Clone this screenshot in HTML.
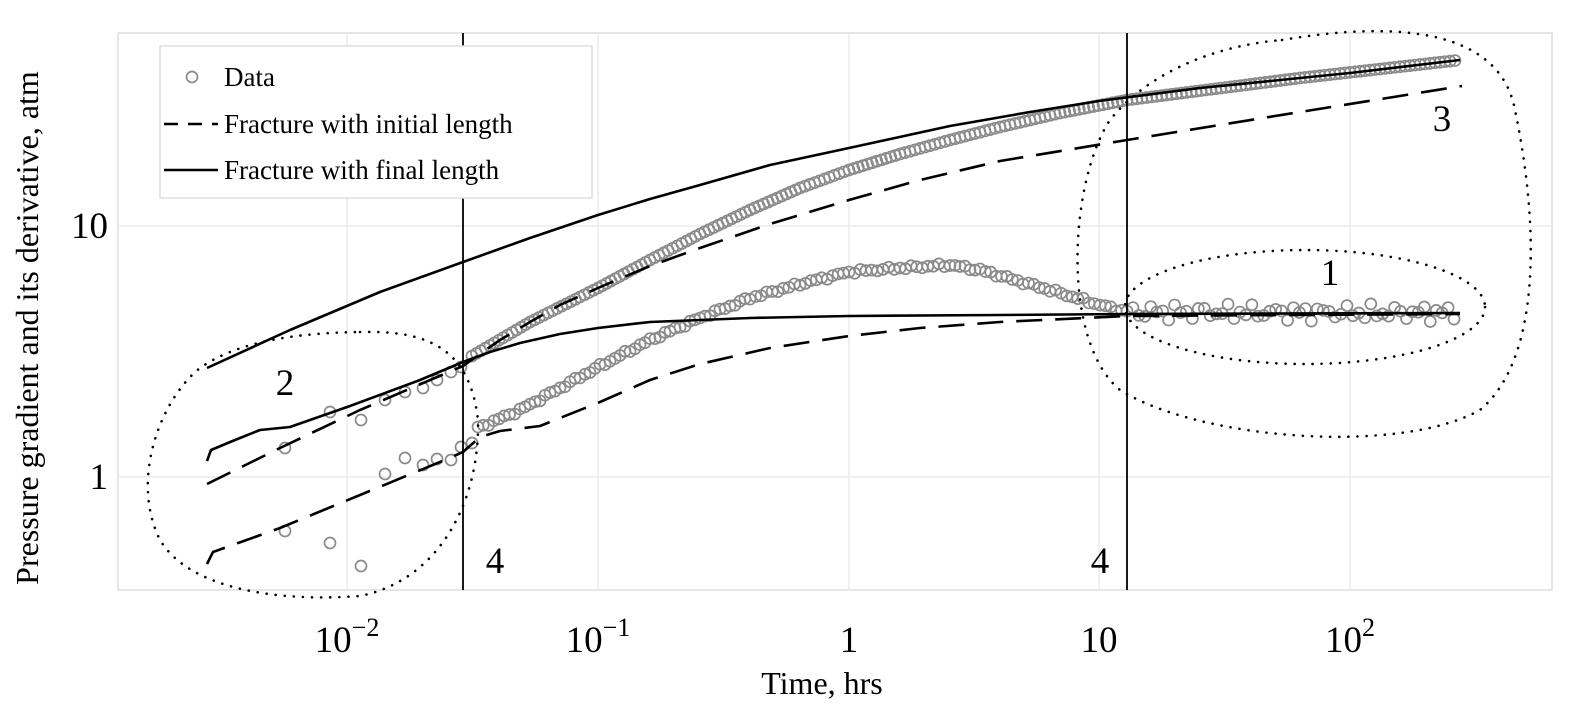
<!DOCTYPE html>
<html><head><meta charset="utf-8"><style>
body{margin:0;background:#fff}
svg{display:block}
text{font-family:"Liberation Serif","DejaVu Serif",serif;fill:#000}
</style></head><body>
<svg id="s" width="1579" height="717" viewBox="0 0 1579 717" xmlns="http://www.w3.org/2000/svg">
<rect x="118" y="33" width="1434" height="557" fill="#fff" stroke="#ddd" stroke-width="1.5"/>
<g stroke="#ebebeb" stroke-width="1.5">
<line x1="347" y1="33" x2="347" y2="590"/><line x1="598" y1="33" x2="598" y2="590"/>
<line x1="849" y1="33" x2="849" y2="590"/><line x1="1099" y1="33" x2="1099" y2="590"/>
<line x1="1350" y1="33" x2="1350" y2="590"/>
<line x1="118" y1="226" x2="1552" y2="226"/><line x1="118" y1="477" x2="1552" y2="477"/>
</g>
<g id="data" fill="none" stroke="#8a8a8a" stroke-width="1.7"></g>
<g fill="none" stroke="#000" stroke-width="2.6" stroke-linejoin="round">
<polyline points="207,368 290,330 380,292 463,262 530,238 598,215 650,199 700,185 770,165 849,148 950,126 1030,112 1099,101 1200,88 1350,73 1460,60"/>
<polyline points="207,461 211,450 235,440 260,430 290,427 350,406 420,380 463,362 490,352 520,343 560,334 598,328 650,322 750,318 849,316 1000,315 1127,314 1460,313"/>
<g stroke-dasharray="26,13">
<polyline points="207,484 280,448 360,410 463,366 500,340 530,322 560,305 598,288 650,266 700,248 770,224 849,200 920,180 1000,161 1127,140 1300,112 1462,86"/>
<polyline points="207,564 213,552 280,528 360,495 440,462 463,452 480,437 500,431 540,426 600,402 650,380 700,364 770,348 849,336 920,328 1000,322 1127,316 1460,314"/>
</g>
</g>
<g stroke="#000" stroke-width="1.8"><line x1="463" y1="33" x2="463" y2="590"/><line x1="1127" y1="33" x2="1127" y2="590"/></g>
<g fill="none" stroke="#000" stroke-width="2.6" stroke-dasharray="0.1,9" stroke-linecap="round">
<ellipse cx="1305" cy="307" rx="180" ry="57"/>
<path d="M1282,40 C1400,20 1500,30 1515,110 C1540,230 1540,360 1480,410 C1400,455 1200,440 1120,390 C1060,340 1070,180 1110,120 C1150,70 1220,45 1282,40 Z"/>
<path d="M360,332 C430,330 470,350 478,420 C480,500 440,580 360,596 C280,602 190,590 160,540 C130,480 160,400 200,368 C240,340 300,333 360,332 Z"/>
</g>
<g font-size="37">
<text x="1330" y="285" text-anchor="middle">1</text>
<text x="285" y="395" text-anchor="middle">2</text>
<text x="1442" y="131" text-anchor="middle">3</text>
<text x="495" y="573" text-anchor="middle">4</text>
<text x="1100" y="573" text-anchor="middle">4</text>
</g>
<g font-size="37">
<text x="108" y="489" text-anchor="end">1</text>
<text x="108" y="238" text-anchor="end">10</text>
<text x="347" y="652" text-anchor="middle">10<tspan font-size="26" dy="-16">−2</tspan></text>
<text x="598" y="652" text-anchor="middle">10<tspan font-size="26" dy="-16">−1</tspan></text>
<text x="849" y="652" text-anchor="middle">1</text>
<text x="1099" y="652" text-anchor="middle">10</text>
<text x="1350" y="652" text-anchor="middle">10<tspan font-size="26" dy="-16">2</tspan></text>
</g>
<text x="822" y="694" font-size="32" text-anchor="middle">Time, hrs</text>
<text transform="translate(38,328) rotate(-90)" font-size="32" text-anchor="middle">Pressure gradient and its derivative, atm</text>
<rect x="160" y="46" width="432" height="152" fill="#fff" stroke="#ddd" stroke-width="1.5"/>
<circle cx="192" cy="77" r="5.5" fill="none" stroke="#8a8a8a" stroke-width="1.7"/>
<line x1="164" y1="124" x2="218" y2="124" stroke="#000" stroke-width="2.6" stroke-dasharray="14,10"/>
<line x1="164" y1="170" x2="218" y2="170" stroke="#000" stroke-width="2.6"/>
<g font-size="27"><text x="224" y="86">Data</text><text x="224" y="133">Fracture with initial length</text><text x="224" y="179">Fracture with final length</text></g>
</svg>
<script>
var g=document.getElementById('data');
function c(x,y){var e=document.createElementNS('http://www.w3.org/2000/svg','circle');e.setAttribute('cx',x);e.setAttribute('cy',y);e.setAttribute('r',5.5);g.appendChild(e);}
[[285,448],[330,412],[361,420],[385,400],[405,392],[423,388],[437,380],[451,372],[461,367],[285,531],[330,543],[361,566],[385,474],[405,458],[423,465],[437,459],[451,460],[461,447],[472,443]].forEach(function(p){c(p[0],p[1]);});
function along(pts,step,noise){for(var i=0;i<pts.length-1;i++){var a=pts[i],b=pts[i+1],d=Math.hypot(b[0]-a[0],b[1]-a[1]),n=Math.max(1,Math.round(d/step));for(var k=0;k<n;k++){var t=k/n;var x=a[0]+t*(b[0]-a[0]);var ny=noise?noise*Math.sin(x*0.37)*Math.cos(x*0.11):0;c(x,a[1]+t*(b[1]-a[1])+ny);}}}
along([[472,356],[530,322],[598,288],[650,260],[700,234],[750,210],[800,188],[849,170],[900,154],[950,140],[1000,127],[1060,113],[1127,100],[1300,78],[1460,60]],5,0);
along([[478,428],[520,410],[560,388],[600,366],[650,340],[700,318],[750,298],[800,284],[849,272],[900,268],[950,265],[980,270],[1050,290],[1100,305],[1127,312]],5.5,2);
along([[1127,312],[1460,313]],6,9);
</script>
</body></html>
